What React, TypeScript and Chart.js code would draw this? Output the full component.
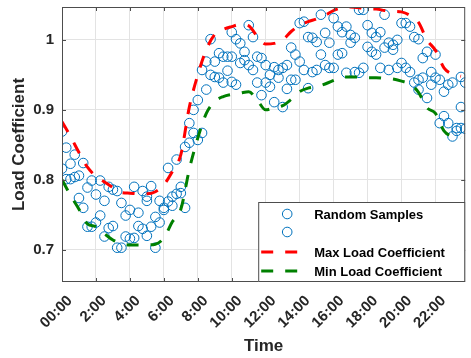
import { useEffect, useRef } from 'react';
import { Chart, registerables } from 'chart.js';

Chart.register(...registerables);

// Axis ticks
const tickHours = [0, 2, 4, 6, 8, 10, 12, 14, 16, 18, 20, 22];
const tickLabels = ['00:00', '2:00', '4:00', '6:00', '8:00', '10:00', '12:00', '14:00', '16:00', '18:00', '20:00', '22:00'];
const yTickValues = [0.7, 0.8, 0.9, 1];
const yTickLabels = ['0.7', '0.8', '0.9', '1'];

// Envelope curves, half-hour resolution
const envelopeHours = [
  0, 0.5, 1, 1.5, 2, 2.5, 3, 3.5, 4, 4.5, 5, 5.5, 6, 6.5, 7, 7.5, 8, 8.5, 9, 9.5, 10, 10.5, 11, 11.5,
  12, 12.5, 13, 13.5, 14, 14.5, 15, 15.5, 16, 16.5, 17, 17.5, 18, 18.5, 19, 19.5, 20, 20.5, 21, 21.5, 22, 22.5, 23, 23.5,
];
const maxLoad = [
  0.883, 0.862, 0.839, 0.818, 0.805, 0.797, 0.789, 0.782, 0.781, 0.780, 0.780, 0.783,
  0.793, 0.812, 0.836, 0.904, 0.950, 0.986, 1.008, 1.015, 1.019, 1.022, 1.020, 1.005,
  0.994, 0.995, 1.000, 1.012, 1.021, 1.026, 1.030, 1.035, 1.042, 1.046, 1.047, 1.046,
  1.044, 1.044, 1.042, 1.041, 1.040, 1.035, 1.025, 1.000, 0.985, 0.960, 0.951, 0.948,
];
const minLoad = [
  0.800, 0.778, 0.758, 0.737, 0.733, 0.723, 0.714, 0.709, 0.707, 0.707, 0.707, 0.708,
  0.717, 0.740, 0.758, 0.815, 0.860, 0.895, 0.912, 0.919, 0.922, 0.924, 0.926, 0.914,
  0.900, 0.903, 0.906, 0.915, 0.926, 0.931, 0.933, 0.937, 0.942, 0.947, 0.947, 0.947,
  0.946, 0.946, 0.945, 0.944, 0.941, 0.937, 0.925, 0.903, 0.895, 0.870, 0.862, 0.860,
];

// Random load samples [hour, coefficient]
const samplesA: [number, number][] = [
  [0, 0.869], [0.25, 0.846], [0.5, 0.823], [0.75, 0.836], [1, 0.806], [1.25, 0.824], [1.5, 0.789], [1.75, 0.799],
  [2, 0.779], [2.25, 0.799], [2.5, 0.77], [2.75, 0.79], [3, 0.786], [3.25, 0.784], [3.5, 0.767], [3.75, 0.749],
  [4, 0.757], [4.25, 0.79], [4.5, 0.753], [4.75, 0.784], [5, 0.77], [5.25, 0.791], [5.5, 0.747], [5.75, 0.77],
  [6, 0.76], [6.25, 0.817], [6.5, 0.776], [6.75, 0.829], [7, 0.781], [7.25, 0.847], [7.5, 0.881], [7.75, 0.9],
  [8, 0.914], [8.25, 0.957], [8.5, 0.969], [8.75, 1.001], [9, 0.969], [9.25, 0.981], [9.5, 0.939], [9.75, 0.976],
  [10, 1.011], [10.25, 1.001], [10.5, 0.967], [10.75, 0.983], [11, 1.021], [11.25, 1.004], [11.5, 0.976], [11.75, 0.974],
  [12, 0.964], [12.25, 0.95], [12.5, 0.961], [12.75, 0.957], [13, 0.96], [13.25, 0.964], [13.5, 0.989], [13.75, 0.979],
  [14, 1.024], [14.25, 1.026], [14.5, 1.004], [14.75, 1.003], [15, 0.997], [15.25, 1.036], [15.5, 1.01], [15.75, 0.996],
  [16, 1.031], [16.25, 1.019], [16.5, 1.011], [16.75, 1.019], [17, 1.007], [17.25, 1.003], [17.5, 1.043], [17.75, 1.043],
  [18, 1.021], [18.25, 0.983], [18.5, 1.004], [18.75, 1.011], [19, 1.036], [19.25, 0.996], [19.5, 0.993], [19.75, 1.0],
  [20, 1.024], [20.25, 1.024], [20.5, 1.019], [20.75, 1.004], [21, 1.001], [21.25, 0.974], [21.5, 0.983], [21.75, 0.954],
  [22, 0.979], [22.25, 0.881], [22.5, 0.926], [22.75, 0.936], [23, 0.939], [23.25, 0.874], [23.5, 0.947], [23.75, 0.939],
];
const samplesB: [number, number][] = [
  [0, 0.816], [0.25, 0.801], [0.5, 0.801], [0.75, 0.804], [1, 0.774], [1.25, 0.76], [1.5, 0.733], [1.75, 0.733],
  [2, 0.739], [2.25, 0.749], [2.5, 0.719], [2.75, 0.731], [3, 0.734], [3.25, 0.703], [3.5, 0.703], [3.75, 0.719],
  [4, 0.716], [4.25, 0.717], [4.5, 0.734], [4.75, 0.73], [5, 0.72], [5.25, 0.733], [5.5, 0.703], [5.75, 0.739],
  [6, 0.757], [6.25, 0.769], [6.5, 0.763], [6.75, 0.78], [7, 0.79], [7.25, 0.76], [7.5, 0.853], [7.75, 0.867],
  [8, 0.857], [8.25, 0.867], [8.5, 0.929], [8.75, 0.95], [9, 0.947], [9.25, 0.946], [9.5, 0.976], [9.75, 0.956],
  [10, 0.94], [10.25, 0.936], [10.5, 0.995], [10.75, 0.971], [11, 0.964], [11.25, 0.957], [11.5, 0.939], [11.75, 0.921],
  [12, 0.939], [12.25, 0.933], [12.5, 0.911], [12.75, 0.946], [13, 0.904], [13.25, 0.93], [13.5, 0.943], [13.75, 0.943],
  [14, 0.969], [14.25, 0.957], [14.5, 0.931], [14.75, 0.954], [15, 0.957], [15.25, 0.979], [15.5, 0.964], [15.75, 0.96],
  [16, 0.96], [16.25, 0.979], [16.5, 0.981], [16.75, 0.953], [17, 0.996], [17.25, 0.954], [17.5, 0.953], [17.75, 0.96],
  [18, 0.99], [18.25, 1.01], [18.5, 0.979], [18.75, 0.96], [19, 0.989], [19.25, 0.957], [19.5, 0.986], [19.75, 0.96],
  [20, 0.967], [20.25, 0.96], [20.5, 0.954], [20.75, 0.939], [21, 0.929], [21.25, 0.946], [21.5, 0.917], [21.75, 0.936],
  [22, 0.946], [22.25, 0.943], [22.5, 0.891], [22.75, 0.881], [23, 0.862], [23.25, 0.87], [23.5, 0.904], [23.75, 0.873],
  [10, 0.976], [21, 0.943], [23.5, 0.874], [5, 0.776],
];

const FONT = '"Liberation Sans", Arial, Helvetica, sans-serif';
const AXIS_COLOR = '#4d4d4d';
const TEXT_COLOR = '#262626';
const SAMPLE_COLOR = 'rgb(0,114,189)';
const MAX_COLOR = '#ff0000';
const MIN_COLOR = '#008000';
const DASH = [12, 12];

// Box around the plot area with inward tick marks
const framePlugin = {
  id: 'frame',
  afterDatasetsDraw(chart: any) {
    const { ctx, chartArea: a, scales } = chart;
    ctx.save();
    ctx.strokeStyle = AXIS_COLOR;
    ctx.lineWidth = 1;
    ctx.strokeRect(a.left + 0.5, a.top + 0.5, a.right - a.left - 1, a.bottom - a.top - 1);
    ctx.beginPath();
    for (const h of tickHours) {
      const x = Math.round(scales.x.getPixelForValue(h)) + 0.5;
      ctx.moveTo(x, a.bottom);
      ctx.lineTo(x, a.bottom - 4);
      ctx.moveTo(x, a.top);
      ctx.lineTo(x, a.top + 4);
    }
    for (const v of yTickValues) {
      const y = Math.round(scales.y.getPixelForValue(v)) + 0.5;
      ctx.moveTo(a.left, y);
      ctx.lineTo(a.left + 4, y);
      ctx.moveTo(a.right, y);
      ctx.lineTo(a.right - 4, y);
    }
    ctx.stroke();
    ctx.restore();
  },
};

// Legend box in the lower right corner of the plot
const legendPlugin = {
  id: 'cornerLegend',
  afterDraw(chart: any) {
    const { ctx, chartArea: a } = chart;
    const w = 207;
    const h = 80;
    const left = a.right - w;
    const top = a.bottom - h;
    const rowY = [12, 30, 50, 69];
    ctx.save();
    ctx.fillStyle = '#ffffff';
    ctx.fillRect(left, top, w, h);
    ctx.strokeStyle = AXIS_COLOR;
    ctx.lineWidth = 1;
    ctx.strokeRect(left + 0.5, top + 0.5, w - 1, h - 1);
    ctx.font = `bold 13px ${FONT}`;
    ctx.textBaseline = 'middle';
    ctx.textAlign = 'left';
    chart.data.datasets.forEach((ds: any, i: number) => {
      const y = top + rowY[i];
      if (ds.showLine) {
        ctx.strokeStyle = ds.borderColor;
        ctx.lineWidth = 3;
        ctx.setLineDash(DASH);
        ctx.beginPath();
        ctx.moveTo(left + 3, y);
        ctx.lineTo(left + 42, y);
        ctx.stroke();
        ctx.setLineDash([]);
      } else {
        ctx.strokeStyle = ds.borderColor;
        ctx.lineWidth = 1;
        ctx.beginPath();
        ctx.arc(left + 29, y, 4.8, 0, Math.PI * 2);
        ctx.stroke();
      }
      if (ds.label) {
        ctx.fillStyle = '#000000';
        ctx.fillText(ds.label, left + 56, y + 1);
      }
    });
    ctx.restore();
  },
};

export default function App() {
  const canvasRef = useRef<HTMLCanvasElement | null>(null);

  useEffect(() => {
    document.body.style.margin = '0';
    const canvas = canvasRef.current;
    if (!canvas) return;

    const toPoints = (list: [number, number][]) => list.map(([x, y]) => ({ x, y }));
    const envelope = (vals: number[]) => envelopeHours.map((x, i) => ({ x, y: vals[i] }));

    const sampleStyle = {
      showLine: false,
      pointRadius: 4.8,
      pointHoverRadius: 4.8,
      pointBorderWidth: 1,
      pointBackgroundColor: 'rgba(0,0,0,0)',
      pointBorderColor: SAMPLE_COLOR,
      borderColor: SAMPLE_COLOR,
      order: 2,
    };
    const lineStyle = {
      showLine: true,
      pointRadius: 0,
      borderWidth: 3,
      borderDash: DASH,
      cubicInterpolationMode: 'monotone' as const,
      fill: false,
      order: 1,
    };

    const chart = new Chart(canvas, {
      type: 'scatter',
      data: {
        datasets: [
          { label: 'Random Samples', data: toPoints(samplesA), ...sampleStyle },
          { label: '', data: toPoints(samplesB), ...sampleStyle },
          { label: 'Max Load Coefficient', data: envelope(maxLoad), borderColor: MAX_COLOR, ...lineStyle },
          { label: 'Min Load Coefficient', data: envelope(minLoad), borderColor: MIN_COLOR, ...lineStyle },
        ],
      },
      options: {
        animation: false,
        responsive: false,
        devicePixelRatio: 1,
        layout: { padding: { top: 7, right: 2, left: 0, bottom: 0 } },
        plugins: {
          legend: { display: false },
          tooltip: { enabled: false },
        },
        scales: {
          x: {
            type: 'linear',
            min: 0,
            max: 23.75,
            afterBuildTicks: (scale: any) => {
              scale.ticks = tickHours.map((value) => ({ value }));
            },
            afterFit: (scale: any) => {
              scale.height = 76;
              scale.paddingLeft = 0;
              scale.paddingRight = 0;
            },
            grid: { color: '#e3e3e3', drawTicks: false },
            border: { display: false },
            ticks: {
              autoSkip: false,
              maxRotation: 45,
              minRotation: 45,
              padding: 10,
              labelOffset: 8,
              color: TEXT_COLOR,
              font: { family: FONT, size: 15, weight: 'bold' },
              callback: (_v: any, i: number) => tickLabels[i],
            },
            title: {
              display: true,
              text: 'Time',
              color: TEXT_COLOR,
              font: { family: FONT, size: 17, weight: 'bold' },
              padding: { top: 0, bottom: 1 },
            },
          },
          y: {
            type: 'linear',
            min: 0.654,
            max: 1.047,
            afterBuildTicks: (scale: any) => {
              scale.ticks = yTickValues.map((value) => ({ value }));
            },
            afterFit: (scale: any) => {
              scale.width = 62;
              scale.paddingTop = 0;
              scale.paddingBottom = 0;
            },
            grid: { color: '#e3e3e3', drawTicks: false },
            border: { display: false },
            ticks: {
              padding: 8,
              color: TEXT_COLOR,
              font: { family: FONT, size: 15, weight: 'bold' },
              callback: (_v: any, i: number) => yTickLabels[i],
            },
            title: {
              display: true,
              text: 'Load Coefficient',
              color: TEXT_COLOR,
              font: { family: FONT, size: 17, weight: 'bold' },
              padding: { top: 9, bottom: 0 },
            },
          },
        },
      },
      plugins: [framePlugin, legendPlugin],
    });

    return () => chart.destroy();
  }, []);

  return <canvas ref={canvasRef} width={471} height={358} style={{ display: 'block', width: 471, height: 358 }} />;
}
